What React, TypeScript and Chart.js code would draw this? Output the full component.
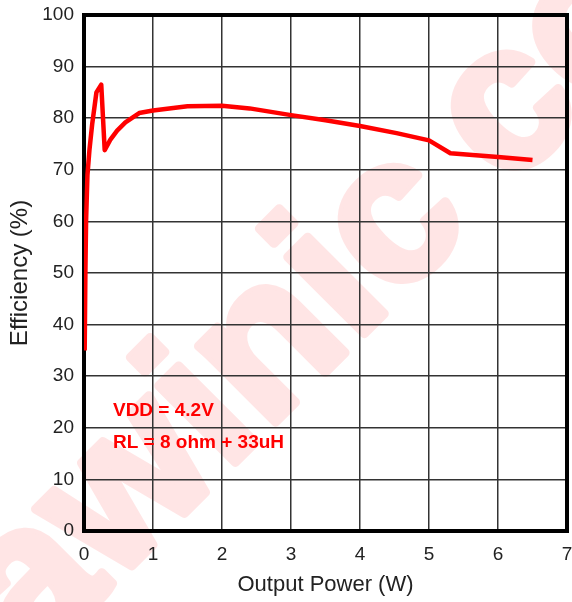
import React, { useEffect, useRef } from "react";
import { Chart, registerables } from "chart.js";

Chart.register(...registerables);

const powerW = [0.01, 0.02, 0.03, 0.05, 0.08, 0.12, 0.18, 0.25, 0.3, 0.38, 0.48, 0.6, 0.8, 1.0, 1.5, 2.0, 2.4, 3.0, 3.5, 4.0, 4.53, 5.0, 5.31, 6.0, 6.5];
const efficiency = [35, 50, 60, 69, 74, 79, 85, 86.5, 73.8, 75.8, 77.6, 79.2, 81, 81.5, 82.3, 82.4, 81.9, 80.6, 79.6, 78.5, 77.1, 75.7, 73.2, 72.5, 71.9];
const noteLines = ["VDD = 4.2V", "RL = 8 ohm + 33uH"];
const noteX = [0.42, 0.42];
const noteY = [23.3, 17.1];
const watermarkParts = ["awinic", "com"];

const FONT = "'Liberation Sans', Arial, sans-serif";

const watermarkPlugin = {
  id: "watermark",
  beforeDraw(chart: any) {
    const ctx = chart.ctx;
    ctx.save();
    ctx.fillStyle = "#fff";
    ctx.fillRect(0, 0, chart.width, chart.height);
    ctx.translate(-8, 626);
    ctx.rotate(-Math.PI / 4);
    ctx.font = `bold 205px ${FONT}`;
    ctx.fillStyle = "#ffe5e5";
    ctx.strokeStyle = "#ffe5e5";
    ctx.lineWidth = 9;
    ctx.lineJoin = "round";
    ctx.textAlign = "left";
    ctx.textBaseline = "middle";
    const w0 = ctx.measureText(watermarkParts[0]).width;
    ctx.strokeText(watermarkParts[0], 0, 0);
    ctx.fillText(watermarkParts[0], 0, 0);
    ctx.strokeText(watermarkParts[1], w0 + 46, 0);
    ctx.fillText(watermarkParts[1], w0 + 46, 0);
    ctx.restore();
  },
};

const framePlugin = {
  id: "frame",
  beforeDatasetsDraw(chart: any) {
    const { ctx, chartArea: a } = chart;
    ctx.save();
    ctx.strokeStyle = "#000";
    ctx.lineWidth = 4;
    ctx.strokeRect(a.left, a.top, a.right - a.left, a.bottom - a.top);
    ctx.restore();
  },
  afterDatasetsDraw(chart: any) {
    const { ctx, scales } = chart;
    ctx.save();
    ctx.fillStyle = "#ff0000";
    ctx.font = `bold 19px ${FONT}`;
    ctx.textAlign = "left";
    ctx.textBaseline = "middle";
    noteLines.forEach((t, i) => {
      ctx.fillText(t, scales.x.getPixelForValue(noteX[i]), scales.y.getPixelForValue(noteY[i]));
    });
    ctx.restore();
  },
};

export default function App() {
  const ref = useRef<HTMLCanvasElement>(null);
  useEffect(() => {
    const chart = new Chart(ref.current!, {
      type: "scatter",
      data: {
        datasets: [
          {
            data: powerW.map((x, i) => ({ x, y: efficiency[i] })),
            showLine: true,
            borderColor: "#ff0000",
            borderWidth: 4.5,
            pointRadius: 0,
            tension: 0,
            borderJoinStyle: "round",
            borderCapStyle: "butt",
          },
        ],
      },
      options: {
        responsive: false,
        animation: false,
        layout: { padding: { left: 0, right: 5, top: 15, bottom: 0 } },
        plugins: { legend: { display: false }, tooltip: { enabled: false } },
        scales: {
          x: {
            type: "linear",
            min: 0,
            max: 7,
            border: { display: false },
            grid: { color: "#333", lineWidth: 1.5, drawTicks: false },
            ticks: { stepSize: 1, color: "#222", font: { family: FONT, size: 19 }, padding: 12, maxRotation: 0 },
            title: { display: true, text: "Output Power (W)", color: "#222", font: { family: FONT, size: 22 }, padding: { top: 0, bottom: 4 } },
            afterFit(s: any) {
              s.height = 71;
              s.paddingLeft = 0;
              s.paddingRight = 0;
            },
          },
          y: {
            min: 0,
            max: 100,
            border: { display: false },
            grid: { color: "#333", lineWidth: 1.5, drawTicks: false },
            ticks: { stepSize: 10, color: "#222", font: { family: FONT, size: 19 }, padding: 10 },
            title: { display: true, text: "Efficiency (%)", color: "#222", font: { family: FONT, size: 24 }, padding: { top: 6, bottom: 0 } },
            afterFit(s: any) {
              s.width = 84;
              s.paddingTop = 0;
              s.paddingBottom = 0;
            },
          },
        },
      },
      plugins: [watermarkPlugin, framePlugin],
    } as any);
    return () => chart.destroy();
  }, []);
  return (
    <div style={{ position: "absolute", left: 0, top: 0, width: 572, height: 602 }}>
      <canvas ref={ref} width={572} height={602} />
    </div>
  );
}
